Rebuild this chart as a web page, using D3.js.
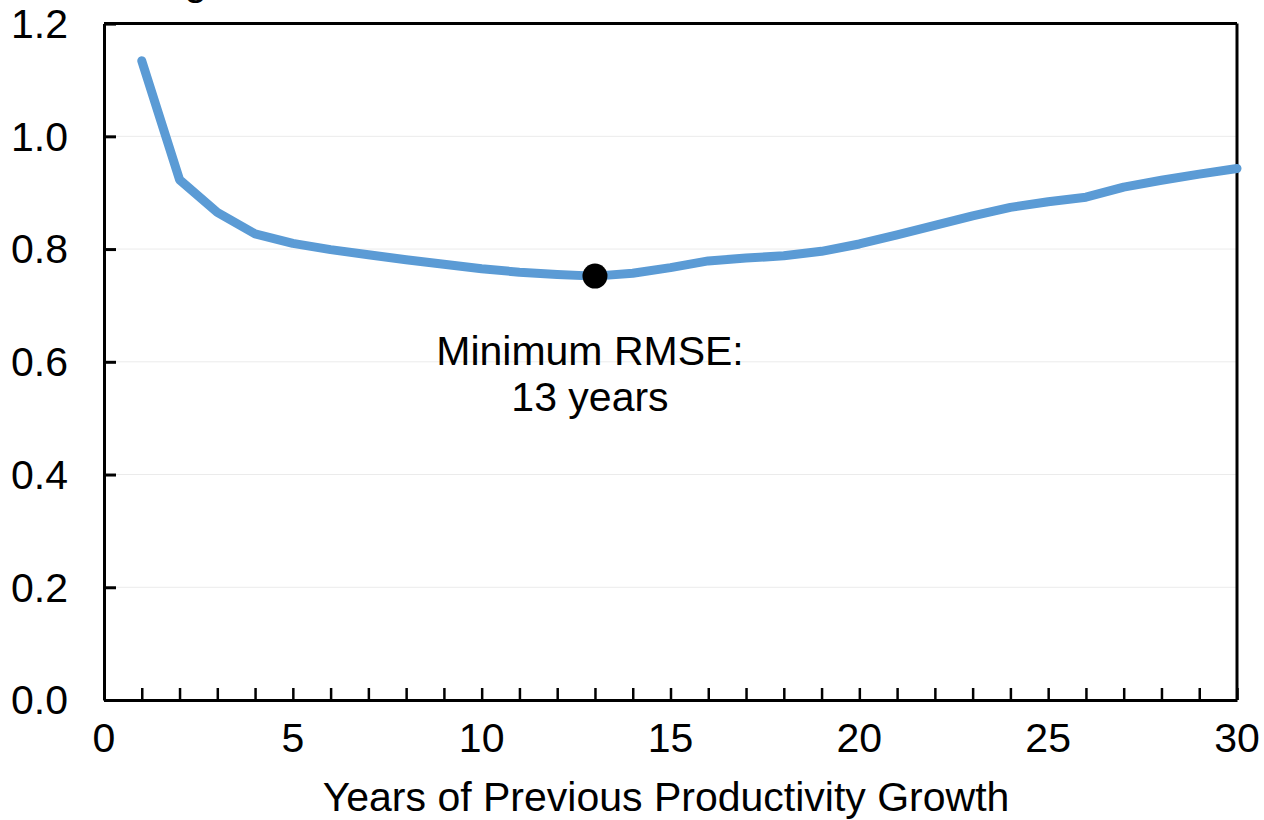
<!DOCTYPE html>
<html>
<head>
<meta charset="utf-8">
<script src="https://cdn.jsdelivr.net/npm/d3@7"></script>
<style>
  html, body { margin: 0; padding: 0; background: #fff; }
  svg { display: block; font-family: "Liberation Sans", Arial, sans-serif; }
</style>
</head>
<body>
<svg id="chart" width="1264" height="820"></svg>
<script>
const years = [1,2,3,4,5,6,7,8,9,10,11,12,13,14,15,16,17,18,19,20,21,22,23,24,25,26,27,28,29,30];
const rmse  = [1.134,0.923,0.865,0.827,0.810,0.799,0.790,0.781,0.773,0.765,0.759,0.755,0.752,0.757,0.767,0.779,0.784,0.788,0.796,0.809,0.825,0.842,0.859,0.874,0.884,0.892,0.910,0.922,0.933,0.943];
const minYear = 13;
const yTicks = [0, 0.2, 0.4, 0.6, 0.8, 1.0, 1.2];
const xTicks = [0, 5, 10, 15, 20, 25, 30];
const xMinor = d3.range(0, 31);
const annotation = ["Minimum RMSE:", "13 years"];
const xTitle = "Years of Previous Productivity Growth";
const topTitle = "Average RMSE,";

const svg = d3.select("#chart");
const L = 104, R = 1237, T = 23.6, B = 700;
const FS = 41;
const x = d3.scaleLinear().domain([0, 30]).range([L, R]);
const y = d3.scaleLinear().domain([0, 1.2]).range([B, T]);

// title, mostly cut off at the top edge as in the reference
svg.append("text").attr("x", 78).attr("y", -5).attr("font-size", FS).attr("fill", "#000").text(topTitle);

// gridlines
svg.append("g").selectAll("line").data(yTicks.filter(d => d > 0 && d < 1.2)).join("line")
  .attr("x1", L).attr("x2", R).attr("y1", d => y(d)).attr("y2", d => y(d))
  .attr("stroke", "#ebebeb").attr("stroke-width", 1);

// plot border (top and right)
svg.append("line").attr("x1", L).attr("x2", R).attr("y1", T).attr("y2", T).attr("stroke", "#000").attr("stroke-width", 3);
svg.append("line").attr("x1", R).attr("x2", R).attr("y1", T).attr("y2", B).attr("stroke", "#000").attr("stroke-width", 3);

// x axis: inward minor ticks each year
const xAxis = d3.axisBottom(x).tickValues(xMinor).tickSize(-12).tickSizeOuter(0).tickFormat("");
const gx = svg.append("g").attr("transform", `translate(0,${B})`).call(xAxis);
gx.select(".domain").attr("stroke", "#000").attr("stroke-width", 3);
gx.selectAll(".tick line").attr("stroke", "#000").attr("stroke-width", 2.5);
svg.append("g").selectAll("text").data(xTicks).join("text")
  .attr("x", d => x(d)).attr("y", 752).attr("text-anchor", "middle")
  .attr("font-size", FS).attr("fill", "#000").text(d => d);

// y axis: inward ticks
const yAxis = d3.axisLeft(y).tickValues(yTicks).tickSize(-12).tickSizeOuter(0).tickFormat("");
const gy = svg.append("g").attr("transform", `translate(${L},0)`).call(yAxis);
gy.select(".domain").attr("stroke", "#000").attr("stroke-width", 3);
gy.selectAll(".tick line").attr("stroke", "#000").attr("stroke-width", 3);
svg.append("g").selectAll("text").data(yTicks).join("text")
  .attr("x", 68).attr("y", d => y(d)).attr("dy", "0.35em").attr("text-anchor", "end")
  .attr("font-size", FS).attr("fill", "#000").text(d => d.toFixed(1));

// line
const line = d3.line().x((d, i) => x(years[i])).y(d => y(d));
svg.append("path").datum(rmse).attr("d", line)
  .attr("fill", "none").attr("stroke", "#5B9BD5").attr("stroke-width", 9)
  .attr("stroke-linejoin", "round").attr("stroke-linecap", "round");

// minimum marker
const mi = years.indexOf(minYear);
svg.append("circle").attr("cx", x(years[mi])).attr("cy", y(rmse[mi])).attr("r", 12.5).attr("fill", "#000");

// annotation
svg.append("g").selectAll("text").data(annotation).join("text")
  .attr("x", 590).attr("y", (d, i) => 365 + i * 46).attr("text-anchor", "middle")
  .attr("font-size", FS).attr("fill", "#000").text(d => d);

// x title
svg.append("text").attr("x", 666).attr("y", 811).attr("text-anchor", "middle")
  .attr("font-size", FS).attr("fill", "#000").text(xTitle);
</script>
</body>
</html>
